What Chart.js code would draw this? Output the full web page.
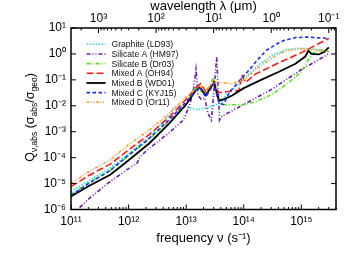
<!DOCTYPE html>
<html>
<head>
<meta charset="utf-8">
<script src="https://cdn.jsdelivr.net/npm/chart.js@4"></script>
<style>
  html, body { margin: 0; padding: 0; background: #fff; }
</style>
</head>
<body>
<canvas id="chart" width="357" height="255"></canvas>
<script>
// frequency nu (s^-1) and Q_abs, one pair per model
const nuGraphite = [1e11, 2e11, 4.8e11, 1e12, 2.3e12, 4e12, 5e12, 6.3e12, 1e13, 1.58e13, 2.5e13, 3.4e13, 4.17e13, 5e13, 7.9e13, 1.26e14, 2e14, 3.16e14, 5.6e14, 1e15, 1.78e15, 3e15];
const qGraphite = [5.0e-6, 1.26e-5, 4.0e-5, 1.41e-4, 6.3e-4, 2.5e-3, 4.5e-3, 8.9e-3, 8.9e-3, 7.1e-3, 8.9e-3, 1.12e-2, 1.41e-2, 2.8e-2, 6.3e-2, 0.178, 0.447, 0.89, 1.51, 1.66, 1.51, 1.2];

const nuSilA = [1e11, 2e11, 4.8e11, 1e12, 1.41e12, 1.58e12, 2.3e12, 5e12, 8.9e12, 1.12e13, 1.32e13, 1.48e13, 1.62e13, 1.82e13, 2.09e13, 2.4e13, 2.75e13, 3.39e13, 3.8e13, 4.17e13, 1e14, 3.16e14, 1e15, 3e15];
const qSilA = [5.6e-7, 2.5e-6, 1.2e-5, 3.8e-5, 6.3e-5, 1.1e-4, 2.3e-4, 8.9e-4, 2.8e-3, 8.9e-3, 3.2e-2, 0.25, 2.5e-2, 1.78e-2, 2.0e-2, 5.0e-3, 2.8e-3, 0.79, 2.8e-3, 4.0e-3, 1.12e-2, 4.5e-2, 0.25, 1.0];

const nuSilB = [1e11, 2e11, 4.8e11, 1e12, 2.3e12, 5e12, 1e13, 1.48e13, 1.86e13, 2.19e13, 3.02e13, 3.8e13, 5e13, 1e14, 1.58e14, 3.16e14, 5.6e14, 1e15, 1.26e15, 1.58e15, 2e15, 3e15];
const qSilB = [3.8e-6, 1.05e-5, 3.2e-5, 1.2e-4, 5.2e-4, 2.5e-3, 1.26e-2, 5.0e-2, 3.5e-2, 3.2e-2, 0.126, 1.26e-2, 1.07e-2, 1.12e-2, 1.41e-2, 2.8e-2, 7.1e-2, 0.2, 0.5, 1.07, 1.41, 1.26];

const nuMixA = [1e11, 2e11, 4.8e11, 1e12, 2.3e12, 5e12, 1e13, 1.48e13, 1.78e13, 2.24e13, 3.02e13, 3.63e13, 5e13, 8.3e13, 9.3e13, 1.07e14, 1.58e14, 4e14, 1e15, 3e15];
const qMixA = [7.6e-6, 2.0e-5, 5.6e-5, 2.0e-4, 7.9e-4, 3.5e-3, 1.78e-2, 5.0e-2, 7.1e-2, 3.2e-2, 8.9e-2, 3.2e-2, 3.5e-2, 4.0e-2, 0.158, 7.9e-2, 0.166, 0.447, 1.12, 3.98];

const nuMixB = [1e11, 2e11, 4.8e11, 1e12, 2.3e12, 5e12, 1e13, 1.48e13, 1.74e13, 2.19e13, 3.02e13, 3.72e13, 4.47e13, 6.3e13, 1e14, 2e14, 4e14, 7.9e14, 1.17e15, 1.32e15, 1.51e15, 2e15, 2.5e15, 3e15];
const qMixB = [3.2e-6, 7.9e-6, 2.2e-5, 7.9e-5, 3.6e-4, 2.0e-3, 1.12e-2, 4.0e-2, 5.2e-2, 2.5e-2, 7.6e-2, 1.58e-2, 1.78e-2, 2.5e-2, 4.8e-2, 0.1, 0.2, 0.417, 0.794, 1.32, 1.0, 0.955, 1.2, 1.78];

const nuMixC = [1e11, 2e11, 4.8e11, 1e12, 2.3e12, 5e12, 1e13, 1.48e13, 1.78e13, 2.19e13, 3.02e13, 3.72e13, 4.47e13, 5.6e13, 7.9e13, 1.26e14, 1.78e14, 2.5e14, 4e14, 5e14, 7.9e14, 1.26e15, 2e15, 3e15];
const qMixC = [3.5e-6, 1.0e-5, 3.2e-5, 1.26e-4, 5.6e-4, 2.8e-3, 1.41e-2, 4.0e-2, 4.5e-2, 2.2e-2, 7.1e-2, 1.26e-2, 1.12e-2, 3.2e-2, 7.9e-2, 0.25, 0.63, 1.41, 2.63, 3.3, 4.27, 4.47, 4.17, 3.98];

const nuMixD = [1e11, 2e11, 4.8e11, 1e12, 2.3e12, 5e12, 1e13, 1.48e13, 1.86e13, 2.29e13, 3.02e13, 3.98e13, 6.3e13, 1e14, 1.58e14, 2.5e14, 4e14, 6.3e14, 1e15, 1.58e15, 3e15];
const qMixD = [1.0e-5, 2.8e-5, 8.3e-5, 3.2e-4, 1.17e-3, 5.0e-3, 2.2e-2, 4.5e-2, 5.6e-2, 4.2e-2, 7.9e-2, 7.9e-2, 7.1e-2, 0.1, 0.24, 0.5, 1.0, 1.41, 1.58, 1.45, 1.2];

const labels = ['Graphite (LD93)', 'Silicate A (HM97)', 'Silicate B (Dr03)', 'Mixed A (OH94)', 'Mixed B (WD01)', 'Mixed C (KYJ15)', 'Mixed D (Or11)'];

// labelled decades on each axis
const freqTicks = [1e11, 1e12, 1e13, 1e14, 1e15];
const waveTicks = [1000, 100, 10, 1, 0.1];
const qTicks = [1e-6, 1e-5, 1e-4, 1e-3, 1e-2, 1e-1, 1, 10];

const C_UM = 2.998e14; // speed of light, micron per second
const NU_MIN = 1e11, NU_MAX = 4e15;
const FONT = "'Liberation Sans', Arial, sans-serif";

const SUP = { '0': '⁰', '1': '¹', '2': '²', '3': '³', '4': '⁴', '5': '⁵', '6': '⁶', '7': '⁷', '8': '⁸', '9': '⁹', '-': '⁻' };
const pow10Label = v => '10' + String(Math.round(Math.log10(v))).split('').map(c => SUP[c]).join('');

// decade ticks plus 2..9 minor ticks, strictly inside [min, max]
function logTicks(major, min, max) {
  const out = [];
  const lo = Math.min(...major) / 10;
  [lo].concat(major).forEach(d => {
    for (let m = 1; m <= 9; m++) {
      const v = m * d;
      if (v >= min && v <= max) out.push({ value: v, major: m === 1 && d !== lo });
    }
  });
  return out.sort((a, b) => a.value - b.value);
}

function series(nu, q) {
  return nu.map((x, i) => ({ x: x, y: q[i] }));
}

const styles = [
  { color: '#2ee3dc', dash: [1.5, 1.5] },
  { color: '#6a1ab4', dash: [4, 2, 1, 2, 1, 2] },
  { color: '#55e41c', dash: [4, 2, 1, 2] },
  { color: '#ff1a1a', dash: [7, 3] },
  { color: '#000000', dash: [] },
  { color: '#1a2cff', dash: [3.5, 2.5] },
  { color: '#ffa033', dash: [3, 1.5, 1, 1.5, 1, 1.5] }
];
const allData = [
  series(nuGraphite, qGraphite), series(nuSilA, qSilA), series(nuSilB, qSilB),
  series(nuMixA, qMixA), series(nuMixB, qMixB), series(nuMixC, qMixC), series(nuMixD, qMixD)
];

const datasets = allData.map((d, i) => ({
  label: labels[i],
  data: d,
  borderColor: styles[i].color,
  backgroundColor: styles[i].color,
  borderDash: styles[i].dash,
  borderWidth: i === 4 ? 1.8 : 1.6,
  pointRadius: 0,
  tension: 0,
  fill: false,
  order: 7 - i
}));

// inward tick marks and the box round the plot
const frame = {
  id: 'frame',
  afterDraw(chart) {
    const { ctx, chartArea: a, scales } = chart;
    ctx.save();
    ctx.strokeStyle = '#000';
    ctx.lineWidth = 1;
    ctx.beginPath();
    scales.x.ticks.forEach(t => {
      const px = scales.x.getPixelForValue(t.value);
      const len = t.major ? 5 : 2.5;
      ctx.moveTo(px, a.bottom); ctx.lineTo(px, a.bottom - len);
    });
    scales.x2.ticks.forEach(t => {
      const px = scales.x2.getPixelForValue(t.value);
      const len = t.major ? 5 : 2.5;
      ctx.moveTo(px, a.top); ctx.lineTo(px, a.top + len);
    });
    scales.y.ticks.forEach(t => {
      const py = scales.y.getPixelForValue(t.value);
      ctx.moveTo(a.left, py); ctx.lineTo(a.left + 5, py);
      ctx.moveTo(a.right, py); ctx.lineTo(a.right - 5, py);
    });
    ctx.stroke();
    ctx.lineWidth = 1.5;
    ctx.strokeRect(a.left, a.top, a.right - a.left, a.bottom - a.top);
    ctx.restore();
  }
};

// key in the upper left of the plot, built from the datasets
const key = {
  id: 'key',
  afterDraw(chart) {
    const { ctx } = chart;
    ctx.save();
    ctx.font = '8.6px ' + FONT;
    ctx.textBaseline = 'middle';
    ctx.fillStyle = '#111';
    chart.data.datasets.forEach((ds, i) => {
      const y = 44.3 + i * 9.67;
      ctx.strokeStyle = ds.borderColor;
      ctx.lineWidth = ds.borderWidth;
      ctx.setLineDash(ds.borderDash);
      ctx.beginPath();
      ctx.moveTo(86.5, y); ctx.lineTo(105.5, y);
      ctx.stroke();
      ctx.setLineDash([]);
      ctx.fillText(ds.label, 111.5, y + 0.5);
    });
    ctx.restore();
  }
};

// rotated y title with subscripts, fitted to the length it has in the figure
const yTitle = {
  id: 'yTitle',
  afterDraw(chart) {
    const { ctx } = chart;
    const parts = [
      ['Q', 1, 0], ['ν,abs', 0.68, 0.25], [' (σ', 1, 0], ['abs', 0.68, 0.25],
      ['/σ', 1, 0], ['geo', 0.68, 0.25], [')', 1, 0]
    ];
    const measure = size => parts.reduce((w, p) => {
      ctx.font = (size * p[1]) + 'px ' + FONT;
      return w + ctx.measureText(p[0]).width;
    }, 0);
    ctx.save();
    let size = 12.5;
    const want = 98;
    const w0 = measure(size);
    if (w0 > want) size = size * want / w0;
    const total = measure(size);
    ctx.fillStyle = '#000';
    ctx.textBaseline = 'alphabetic';
    ctx.translate(33.5, 117.5);
    ctx.rotate(-Math.PI / 2);
    let x = -total / 2;
    parts.forEach(p => {
      ctx.font = (size * p[1]) + 'px ' + FONT;
      ctx.fillText(p[0], x, p[2] * size);
      x += ctx.measureText(p[0]).width;
    });
    ctx.restore();
  }
};

new Chart(document.getElementById('chart').getContext('2d'), {
  type: 'line',
  data: { datasets: datasets },
  options: {
    responsive: false,
    animation: false,
    layout: { padding: { left: 0, right: 21, top: 0, bottom: 0 } },
    plugins: { legend: { display: false }, tooltip: { enabled: false } },
    scales: {
      x: {
        type: 'logarithmic',
        position: 'bottom',
        min: NU_MIN,
        max: NU_MAX,
        afterBuildTicks: s => { s.ticks = logTicks(freqTicks, NU_MIN, NU_MAX); },
        afterFit: s => { s.height = 45.5; },
        grid: { display: false, drawTicks: false },
        border: { display: false },
        ticks: {
          autoSkip: false, maxRotation: 0, minRotation: 0, padding: 5,
          color: '#000', font: { family: FONT, size: 12 },
          callback: (v, i, t) => (t[i].major ? pow10Label(v) : '')
        },
        title: {
          display: true, text: 'frequency ν (s⁻¹)', color: '#000',
          font: { family: FONT, size: 13 }, padding: { top: 0, bottom: 9 }
        }
      },
      x2: {
        type: 'logarithmic',
        position: 'top',
        reverse: true,
        min: C_UM / NU_MAX,
        max: C_UM / NU_MIN,
        afterBuildTicks: s => { s.ticks = logTicks(waveTicks, C_UM / NU_MAX, C_UM / NU_MIN); },
        afterFit: s => { s.height = 28; },
        grid: { display: false, drawTicks: false },
        border: { display: false },
        ticks: {
          autoSkip: false, maxRotation: 0, minRotation: 0, padding: 2,
          color: '#000', font: { family: FONT, size: 12 },
          callback: (v, i, t) => (t[i].major ? pow10Label(v) : '')
        },
        title: {
          display: true, text: 'wavelength λ (μm)', color: '#000',
          font: { family: FONT, size: 13, lineHeight: 1 }, padding: { top: 0, bottom: 0 }
        }
      },
      y: {
        type: 'logarithmic',
        position: 'left',
        min: 1e-6,
        max: 10,
        afterBuildTicks: s => { s.ticks = qTicks.map(v => ({ value: v, major: true })); },
        afterFit: s => { s.width = 71; },
        grid: { display: false, drawTicks: false },
        border: { display: false },
        ticks: {
          autoSkip: false, padding: 5,
          color: '#000', font: { family: FONT, size: 12 },
          callback: v => pow10Label(v)
        }
      }
    }
  },
  plugins: [frame, key, yTitle]
});
</script>
</body>
</html>
